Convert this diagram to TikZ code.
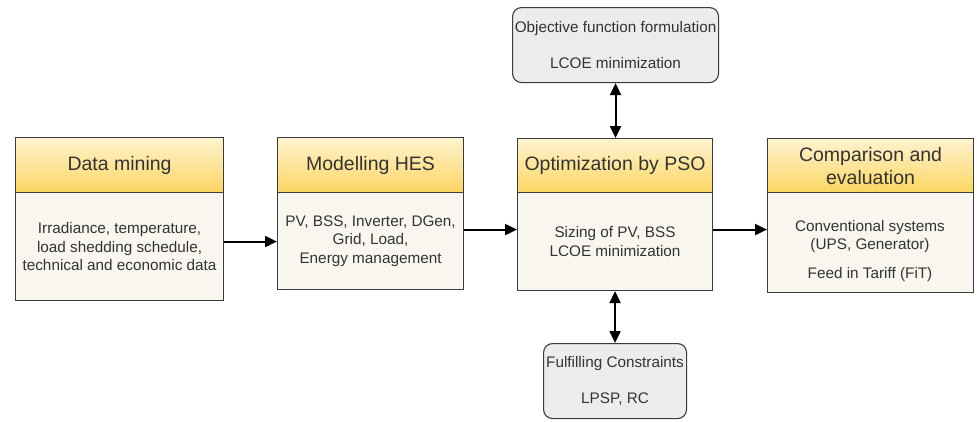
\documentclass[tikz,border=0pt]{standalone}
\usepackage{fontspec}
\setmainfont{Liberation Sans}
\usetikzlibrary{arrows.meta}
\definecolor{edge}{HTML}{3C3C3C}
\definecolor{hdrtop}{HTML}{FFF3CF}
\definecolor{hdrbot}{HTML}{FCD662}
\definecolor{bodyfill}{HTML}{F8F6EE}
\definecolor{greyfill}{HTML}{ECECEC}
\definecolor{txt}{HTML}{333333}
\tikzset{
  hdr/.style={draw=edge, line width=1.1pt, top color=hdrtop, bottom color=hdrbot,
    anchor=north west, inner sep=0pt, align=center, text=txt,
    font=\fontsize{19.5}{23}\selectfont},
  bodybox/.style={draw=edge, line width=1.1pt, fill=bodyfill,
    anchor=north west, inner sep=0pt, align=center, text=txt,
    font=\fontsize{15.3}{18.3}\selectfont},
  bodytxt/.style={inner sep=0pt, align=center, text=txt,
    font=\fontsize{15.3}{18.3}\selectfont},
  greybox/.style={draw=edge, line width=1.1pt, fill=greyfill, rounded corners=9pt,
    anchor=north west, inner sep=0pt, align=center, text=txt,
    font=\fontsize{15.3}{18.3}\selectfont},
  tip/.style={Triangle[length=12pt,width=11pt]},
  link/.style={line width=2pt, black, -{Triangle[length=12pt,width=11pt]}},
  duallink/.style={line width=2pt, black, {Triangle[length=12pt,width=11pt]}-{Triangle[length=12pt,width=11pt]}},
}
\begin{document}
\begin{tikzpicture}[x=1pt,y=-1pt]
\useasboundingbox (0,0) rectangle (977,421);
\fill[white] (0,0) rectangle (977,421);

% Data mining
\node[hdr, minimum width=208pt, minimum height=55pt] (h1) at (15,137) {Data mining};
\node[bodybox, minimum width=208pt, minimum height=108pt] (b1) at (15,192)
  {Irradiance, temperature,\\load shedding schedule,\\technical and economic data};

% Modelling HES
\node[hdr, minimum width=186pt, minimum height=55pt] (h2) at (277,137) {Modelling HES};
\node[bodybox, minimum width=186pt, minimum height=97pt] (b2) at (277,192)
  {PV, BSS, Inverter, DGen,\\Grid, Load,\\Energy management};

% Optimization by PSO
\node[hdr, minimum width=195pt, minimum height=54pt] (h3) at (517,138) {Optimization by PSO};
\node[bodybox, minimum width=195pt, minimum height=98pt] (b3) at (517,192)
  {Sizing of PV, BSS\\LCOE minimization};

% Comparison and evaluation
\node[hdr, minimum width=206pt, minimum height=54pt] (h4) at (767,138) {Comparison and\\evaluation};
\node[bodybox, minimum width=206pt, minimum height=100pt] (b4) at (767,192) {};
\node[bodytxt] (t4) at (870,251) {Conventional systems\\(UPS, Generator)\\[10.5pt]Feed in Tariff (FiT)};

% Objective and constraints
\node[greybox, minimum width=206pt, minimum height=75pt] (obj) at (512,7)
  {Objective function formulation\\[18.3pt]LCOE minimization};
\node[greybox, minimum width=143pt, minimum height=75pt] (con) at (543,343)
  {Fulfilling Constraints\\[18.3pt]LPSP, RC};

% Connectors
\draw[link] ([yshift=5pt]b1.east) -- ([yshift=5pt]b1.east -| b2.west);
\draw[link] ([yshift=11.5pt]b2.east) -- ([yshift=11.5pt]b2.east -| b3.west);
\draw[link] ([yshift=12pt]b3.east) -- ([yshift=12pt]b3.east -| b4.west);
\draw[duallink] (obj.south) -- (obj.south |- h3.north);
\draw[duallink] (b3.south) -- (b3.south |- con.north);
\end{tikzpicture}
\end{document}
